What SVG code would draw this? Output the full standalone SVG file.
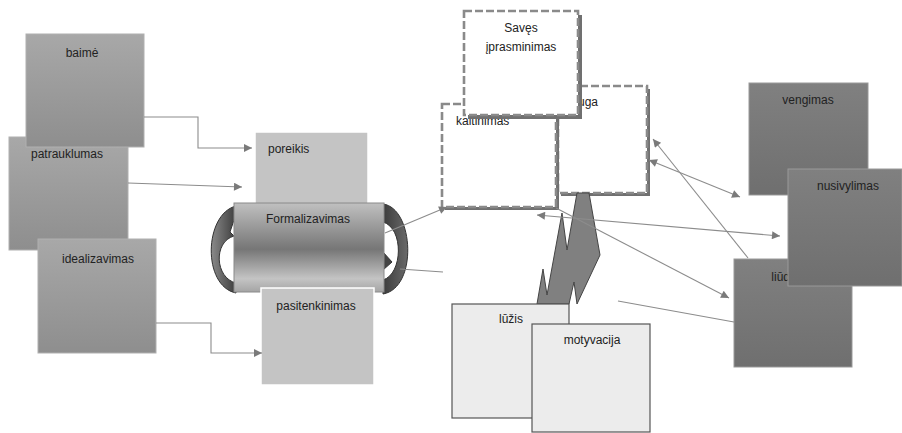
<svg xmlns="http://www.w3.org/2000/svg" width="902" height="433" viewBox="0 0 902 433">
<defs>
<linearGradient id="gL" x1="0" y1="0" x2="0" y2="1"><stop offset="0" stop-color="#a8a8a8"/><stop offset="1" stop-color="#8e8e8e"/></linearGradient>
<linearGradient id="gR" x1="0" y1="0" x2="0" y2="1"><stop offset="0" stop-color="#808080"/><stop offset="1" stop-color="#6f6f6f"/></linearGradient>
<linearGradient id="gC" x1="0" y1="0" x2="0" y2="1"><stop offset="0" stop-color="#c0c0c0"/><stop offset="0.52" stop-color="#767676"/><stop offset="0.85" stop-color="#c4c4c4"/><stop offset="1" stop-color="#a4a4a4"/></linearGradient>
<linearGradient id="gRib" x1="0" y1="0" x2="1" y2="0"><stop offset="0" stop-color="#8a8a8a"/><stop offset="1" stop-color="#3c3c3c"/></linearGradient>
<linearGradient id="gRib2" x1="0" y1="0" x2="1" y2="0"><stop offset="0" stop-color="#3c3c3c"/><stop offset="1" stop-color="#6a6a6a"/></linearGradient>
<marker id="ah" viewBox="0 0 10 10" refX="10" refY="5" markerWidth="10" markerHeight="8" markerUnits="userSpaceOnUse" orient="auto-start-reverse"><path d="M0,0 L10,5 L0,10 z" fill="#7a7a7a"/></marker>
</defs>
<style>
text{font-family:"Liberation Sans",Arial,sans-serif;font-size:12px;fill:#222}
.c{text-anchor:middle}
.lb{fill:url(#gL);stroke:#b0b0b0;stroke-width:1}
.rb{fill:url(#gR);stroke:#999;stroke-width:1}
.pb{fill:#c4c4c4;stroke:#fff;stroke-width:1.5}
.sh{fill:#707070}
.db{fill:#fff;stroke:#8a8a8a;stroke-width:2.6;stroke-dasharray:8 3}
.wb{fill:#ececec;stroke:#555;stroke-width:1.2}
.ln{fill:none;stroke:#8c8c8c;stroke-width:1.1}
</style>
<rect width="902" height="433" fill="#fff"/>

<g id="patrauklumas"><rect class="lb" x="9" y="137" width="119" height="113"/><text class="c" x="67" y="158">patrauklumas</text></g>
<g id="baime"><rect class="lb" x="26" y="34" width="118" height="113"/><text class="c" x="82" y="57">baimė</text></g>
<g id="idealizavimas"><rect class="lb" x="38" y="239" width="118" height="114"/><text class="c" x="98" y="263">idealizavimas</text></g>

<g id="poreikis"><rect class="pb" x="255" y="132" width="113" height="100"/><text x="268" y="153">poreikis</text></g>
<g id="formalizavimas">
<path d="M236,206 C204,214 202,286 236,293 L236,283 C215,278 213,242 234,236 L230,232 L236,214 Z" fill="url(#gRib)" stroke="#333" stroke-width="1"/>
<path d="M383,204 C414,208 418,288 383,294 L383,280 C403,274 404,228 383,222 Z" fill="url(#gRib2)" stroke="#333" stroke-width="1"/>
<path d="M383,252 L392,262 L383,270 Z" fill="#444" stroke="#333" stroke-width="1"/>
<rect x="234" y="203" width="150" height="89" fill="url(#gC)" stroke="#8a8a8a" stroke-width="1"/>
<text class="c" x="308" y="223">Formalizavimas</text>
</g>
<g id="pasitenkinimas"><rect class="pb" x="261" y="288" width="113" height="97"/><text class="c" x="316" y="310">pasitenkinimas</text></g>

<g id="uga"><rect class="sh" x="561" y="89" width="89" height="107"/><rect class="db" x="558" y="86" width="89" height="107"/><text x="578" y="106">uga</text></g>
<g id="kaltinimas"><rect class="sh" x="445" y="107" width="114" height="103"/><rect class="db" x="442" y="104" width="114" height="103"/><text x="456" y="125">kaltinimas</text></g>
<g id="saves"><rect class="sh" x="468" y="15" width="114" height="104"/><rect class="db" x="464" y="11" width="114" height="104"/><text class="c" x="521" y="32">Savęs</text><text class="c" x="521" y="51">įprasminimas</text></g>

<g id="zaibas"><polygon points="577,193 589,193 600,255 577,304 574,282 569,304 537,304 543,269 547,295 562,213 567,250" fill="#808080" stroke="#444" stroke-width="1"/></g>
<g id="luzis"><rect class="wb" x="452" y="304" width="117" height="114"/><text class="c" x="511" y="323">lūžis</text></g>
<g id="motyvacija"><rect class="wb" x="532" y="324" width="118" height="108"/><text class="c" x="592" y="344">motyvacija</text></g>

<g id="vengimas"><rect class="rb" x="749" y="83" width="119" height="112"/><text class="c" x="808" y="104">vengimas</text></g>
<g id="liudesys"><rect class="rb" x="734" y="259" width="118" height="108"/><text class="c" x="793" y="281">liūdesys</text></g>
<g id="nusivylimas"><rect class="rb" x="788" y="169" width="114" height="117"/><text class="c" x="848" y="190">nusivylimas</text></g>

<g id="connectors">
<polyline class="ln" points="144,117 198,117 198,148 252,148" marker-end="url(#ah)"/>
<line class="ln" x1="128" y1="183" x2="242" y2="187" marker-end="url(#ah)"/>
<polyline class="ln" points="156,323 211,323 211,353 262,353" marker-end="url(#ah)"/>
<line class="ln" x1="385" y1="233" x2="447" y2="207" marker-end="url(#ah)"/>
<line class="ln" x1="400" y1="269" x2="443" y2="272"/>
<line class="ln" x1="537" y1="215" x2="780" y2="236" marker-start="url(#ah)" marker-end="url(#ah)"/>
<line class="ln" x1="556" y1="208" x2="729" y2="298" marker-end="url(#ah)"/>
<line class="ln" x1="618" y1="301" x2="734" y2="322"/>
<line class="ln" x1="748" y1="258" x2="653" y2="139" marker-end="url(#ah)"/>
<line class="ln" x1="649" y1="160" x2="740" y2="197" marker-start="url(#ah)" marker-end="url(#ah)"/>
</g>
</svg>
